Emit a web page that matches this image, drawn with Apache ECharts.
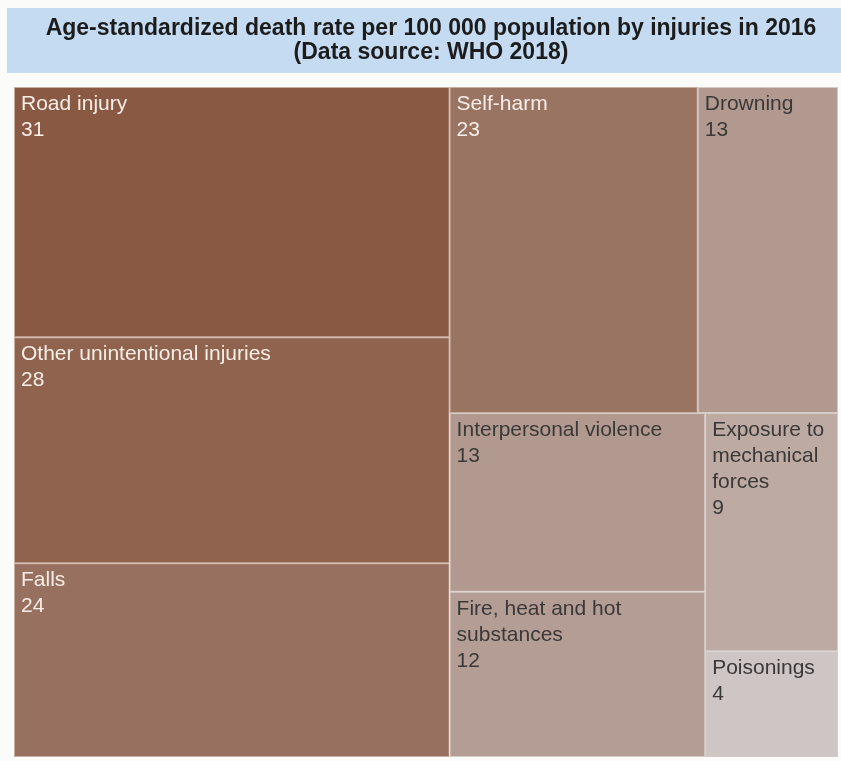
<!DOCTYPE html>
<html>
<head>
<meta charset="utf-8">
<title>Injury death rates treemap</title>
<script src="https://cdn.jsdelivr.net/npm/echarts@6/dist/echarts.min.js"></script>
<style>
  html, body { margin: 0; padding: 0; background: #fbfbfa; }
  #chart { width: 841px; height: 761px; }
</style>
</head>
<body>
<div id="chart"></div>
<script>
// data (deaths per 100 000)
var categories = [
  'Road injury',
  'Other unintentional injuries',
  'Falls',
  'Self-harm',
  'Drowning',
  'Interpersonal violence',
  'Fire, heat and hot substances',
  'Exposure to mechanical forces',
  'Poisonings'
];
var rates = [31, 28, 24, 23, 13, 13, 12, 9, 4];

// how the tiles are grouped (indices into categories), used only so the
// treemap splits the same way as the original
var grouping = [[[0, 1], 2], [[3, 4], [[5, 6], [7, 8]]]];

var lightColor = [205, 198, 197];
var darkColor = [138, 89, 67];

function tileColor(v) {
  var min = Math.min.apply(null, rates);
  var max = Math.max.apply(null, rates);
  var t = (v - min) / (max - min);
  t = Math.pow(t, 0.8);
  var c = lightColor.map(function (l, i) {
    return Math.round(l + (darkColor[i] - l) * t);
  });
  return 'rgb(' + c.join(',') + ')';
}

function buildNode(g) {
  if (typeof g === 'number') {
    var v = rates[g];
    var dark = v >= 20;
    return {
      name: categories[g],
      value: v,
      itemStyle: { color: tileColor(v), borderWidth: 1, borderColor: dark ? '#c9aea2' : '#d6cbc6' },
      label: { color: dark ? '#f7eee8' : '#3b3838' }
    };
  }
  var children = g.map(buildNode);
  var sum = 0;
  children.forEach(function (c) { sum += c.value; });
  return { name: '', value: sum, children: children };
}

var treeData = grouping.map(buildNode);

var chart = echarts.init(document.getElementById('chart'));

var option = {
  backgroundColor: '#fbfbfa',
  animation: false,
  graphic: [{
    type: 'rect',
    left: 7,
    top: 8,
    shape: { width: 834, height: 65 },
    style: { fill: '#c4dbf2' },
    silent: true
  }],
  title: {
    text: 'Age-standardized death rate per 100 000 population by injuries in 2016\n(Data source: WHO 2018)',
    left: 426,
    textAlign: 'center',
    top: 12,
    textStyle: {
      fontFamily: 'Liberation Sans, Arial, sans-serif',
      fontWeight: 'bold',
      fontSize: 23,
      lineHeight: 24,
      color: '#1c1c1c'
    }
  },
  series: [{
    type: 'treemap',
    left: 14,
    top: 87,
    width: 824,
    height: 670,
    sort: false,
    squareRatio: 0.05,
    roam: false,
    nodeClick: false,
    breadcrumb: { show: false },
    emphasis: { disabled: true },
    itemStyle: { borderWidth: 0, gapWidth: 0 },
    label: {
      show: true,
      position: 'insideTopLeft',
      formatter: '{b}\n{c}',
      fontFamily: 'Liberation Sans, Arial, sans-serif',
      fontSize: 21,
      lineHeight: 26,
      padding: [3, 6],
      overflow: 'break'
    },
    data: treeData
  }]
};

chart.setOption(option);
</script>
</body>
</html>
